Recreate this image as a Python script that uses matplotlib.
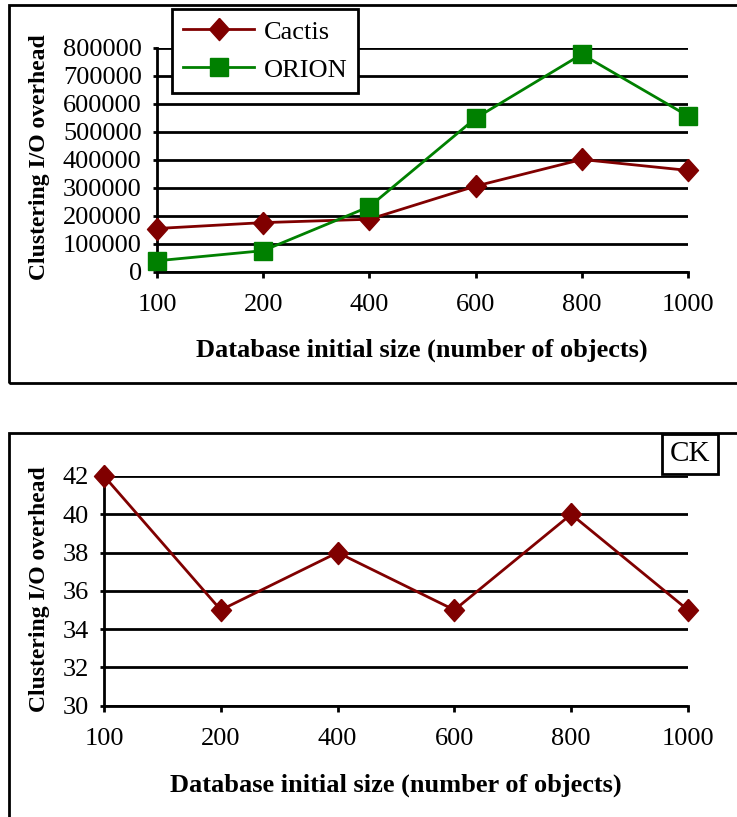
import matplotlib
matplotlib.use("Agg")
import matplotlib.pyplot as plt
from matplotlib.patches import Rectangle
import numpy as np

# donnees
sizes = ["100", "200", "400", "600", "800", "1000"]
cactis = [155000, 176000, 188000, 306000, 401000, 362000]
orion = [40000, 76000, 233000, 548000, 776000, 556000]
ck = [42, 35, 38, 35, 40, 35]

xlabel = "Database initial size (number of objects)"
ylabel = "Clustering I/O overhead"

W, H = 737, 817
RED = "#800000"
GREEN = "#008000"

plt.rcParams['font.family'] = ['Liberation Serif', 'DejaVu Serif']

fig = plt.figure(figsize=(W / 100, H / 100), dpi=100)

# losange un peu plus haut que large
diamond = [(0, 1), (0.9, 0), (0, -1), (-0.9, 0), (0, 1)]


def px_rect(x0, y0, x1, y1):
    # rectangle en pixels (origine en haut a gauche) -> fraction figure
    return [x0 / W, 1 - y1 / H, (x1 - x0) / W, (y1 - y0) / H]


def style_axes(ax, yticks):
    x = np.arange(len(sizes))
    ax.set_xlim(0, len(sizes) - 1)
    ax.set_xticks(x)
    ax.set_xticklabels(sizes)
    ax.set_yticks(yticks)
    ax.set_ylim(yticks[0], yticks[-1])
    ax.yaxis.grid(True, color="black", linewidth=2)
    ax.set_axisbelow(True)
    for s in ["top", "right"]:
        ax.spines[s].set_visible(False)
    for s in ["left", "bottom"]:
        ax.spines[s].set_linewidth(2)
        ax.spines[s].set_color("black")
    ax.tick_params(axis="x", direction="out", length=4, width=2, pad=12, labelsize=19)
    ax.tick_params(axis="y", direction="out", length=3, width=2, pad=8, labelsize=19)
    return x


# cadres des deux panneaux
fig.add_artist(Rectangle((9 / W, 1 - 383 / H), (W + 20) / W, (383 - 5) / H,
                         transform=fig.transFigure, fill=False, edgecolor="black",
                         linewidth=2))
fig.add_artist(Rectangle((9 / W, -0.05), (W + 20) / W, 1 - 433 / H + 0.05,
                         transform=fig.transFigure, fill=False, edgecolor="black",
                         linewidth=2))

# --- graphe du haut ---
ax1 = fig.add_axes(px_rect(157, 47.5, 688, 272))
x = style_axes(ax1, list(range(0, 800001, 100000)))
ax1.plot(x, cactis, color=RED, linewidth=2, marker=diamond, markersize=16,
         markerfacecolor=RED, markeredgecolor=RED, clip_on=False, zorder=3, label="Cactis")
ax1.plot(x, orion, color=GREEN, linewidth=2, marker="s", markersize=12.5,
         markerfacecolor=GREEN, markeredgecolor=GREEN, clip_on=False, zorder=3, label="ORION")

leg = fig.legend(loc="upper left", bbox_to_anchor=(172 / W, 1 - 9 / H),
                 borderaxespad=0, fontsize=19, handlelength=2.7, handletextpad=0.35,
                 labelspacing=0.55, borderpad=0.42, fancybox=False, framealpha=1,
                 edgecolor="black")
leg.get_frame().set_linewidth(2)

fig.text(422 / W, 1 - 350 / H, xlabel, ha="center", va="center",
         fontsize=19, fontweight="bold")
fig.text(40 / W, 1 - 157 / H, ylabel, ha="center", va="center",
         rotation=90, fontsize=17, fontweight="bold")

# --- graphe du bas ---
ax2 = fig.add_axes(px_rect(104, 476, 688, 705.7))
x = style_axes(ax2, list(range(30, 43, 2)))
ax2.plot(x, ck, color=RED, linewidth=2, marker=diamond, markersize=16,
         markerfacecolor=RED, markeredgecolor=RED, clip_on=False, zorder=3)

fig.text(690 / W, 1 - 454 / H, "CK", ha="center", va="center", fontsize=21,
         bbox=dict(boxstyle="square,pad=0.25", facecolor="white", edgecolor="black",
                   linewidth=2))

fig.text(396 / W, 1 - 785 / H, xlabel, ha="center", va="center",
         fontsize=19, fontweight="bold")
fig.text(40 / W, 1 - 589 / H, ylabel, ha="center", va="center",
         rotation=90, fontsize=17, fontweight="bold")

fig.savefig("out.png", dpi=100)
